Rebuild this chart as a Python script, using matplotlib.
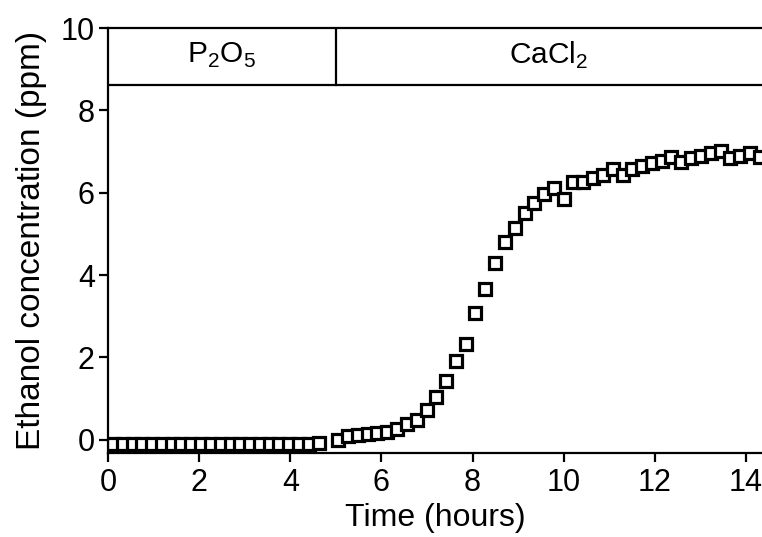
import matplotlib
matplotlib.use("Agg")
import matplotlib.pyplot as plt

plt.rcParams['font.family'] = ['Liberation Sans', 'DejaVu Sans']
plt.rcParams['mathtext.fontset'] = 'custom'
plt.rcParams['mathtext.rm'] = 'Liberation Sans'

# Drying phase (P2O5)
time_p2o5 = [0.11, 0.32, 0.54, 0.75, 0.97, 1.18, 1.40, 1.61, 1.83, 2.04, 2.26,
             2.47, 2.69, 2.90, 3.12, 3.33, 3.55, 3.76, 3.98, 4.19, 4.41, 4.62]
conc_p2o5 = [-0.10, -0.10, -0.10, -0.10, -0.10, -0.09, -0.10, -0.10, -0.10, -0.09, -0.10,
             -0.10, -0.10, -0.10, -0.10, -0.10, -0.10, -0.10, -0.10, -0.10, -0.10, -0.08]

# CaCl2 phase
time_cacl2 = [5.05, 5.27, 5.48, 5.70, 5.91, 6.13, 6.34, 6.56, 6.77, 6.99,
              7.20, 7.42, 7.63, 7.85, 8.06, 8.28, 8.49, 8.71, 8.92, 9.14,
              9.35, 9.57, 9.78, 10.00, 10.21, 10.43, 10.64, 10.86, 11.07, 11.29,
              11.50, 11.72, 11.93, 12.15, 12.36, 12.58, 12.79, 13.01, 13.22, 13.44,
              13.65, 13.87, 14.08, 14.30]
conc_cacl2 = [0.00, 0.10, 0.12, 0.15, 0.17, 0.20, 0.27, 0.39, 0.49, 0.72,
              1.05, 1.43, 1.92, 2.33, 3.07, 3.67, 4.30, 4.80, 5.14, 5.51,
              5.75, 5.97, 6.12, 5.85, 6.26, 6.26, 6.36, 6.43, 6.58, 6.43,
              6.58, 6.65, 6.72, 6.77, 6.87, 6.75, 6.84, 6.89, 6.97, 7.01,
              6.84, 6.89, 6.97, 6.87]

x_ticks = [0, 2, 4, 6, 8, 10, 12, 14]
y_ticks = [0, 2, 4, 6, 8, 10]
phase_labels = [r'P$_{\mathrm{2}}$O$_{\mathrm{5}}$', r'CaCl$_{\mathrm{2}}$']
phase_bounds = [0, 5, 14.35]
box_bottom = 8.62

fig = plt.figure(figsize=(7.62, 5.37), dpi=100)
ax = fig.add_axes([108/762, 1 - 453/537, 1 - 108/762, (453 - 28)/537])

mk = dict(marker='s', linestyle='none', markersize=8.0, markerfacecolor='white',
          markeredgecolor='black', markeredgewidth=2.3)
ax.plot(time_p2o5, conc_p2o5, **mk)
ax.plot(time_cacl2, conc_cacl2, **mk)

ax.set_xlim(phase_bounds[0], phase_bounds[-1])
ax.set_ylim(-0.32, 10)

# phase boxes
ax.plot([phase_bounds[0], phase_bounds[-1]], [box_bottom, box_bottom], color='black', lw=1.6)
ax.plot([phase_bounds[1], phase_bounds[1]], [box_bottom, 10], color='black', lw=1.6)
for i, lab in enumerate(phase_labels):
    ax.text((phase_bounds[i] + phase_bounds[i + 1]) / 2, (box_bottom + 10) / 2 + 0.03, lab,
            ha='center', va='center', fontsize=21.5)

ax.spines['right'].set_visible(False)
for s in ['left', 'bottom', 'top']:
    ax.spines[s].set_linewidth(1.6)

ax.set_xticks(x_ticks)
ax.set_yticks(y_ticks)
ax.tick_params(axis='both', direction='out', length=6.5, width=1.6, labelsize=22)
ax.tick_params(axis='x', pad=4)
ax.tick_params(axis='y', pad=3)
ax.set_xlabel('Time (hours)', fontsize=23, labelpad=4)
ax.set_ylabel('Ethanol concentration (ppm)', fontsize=24, labelpad=10)

fig.savefig('out.png', dpi=100)
